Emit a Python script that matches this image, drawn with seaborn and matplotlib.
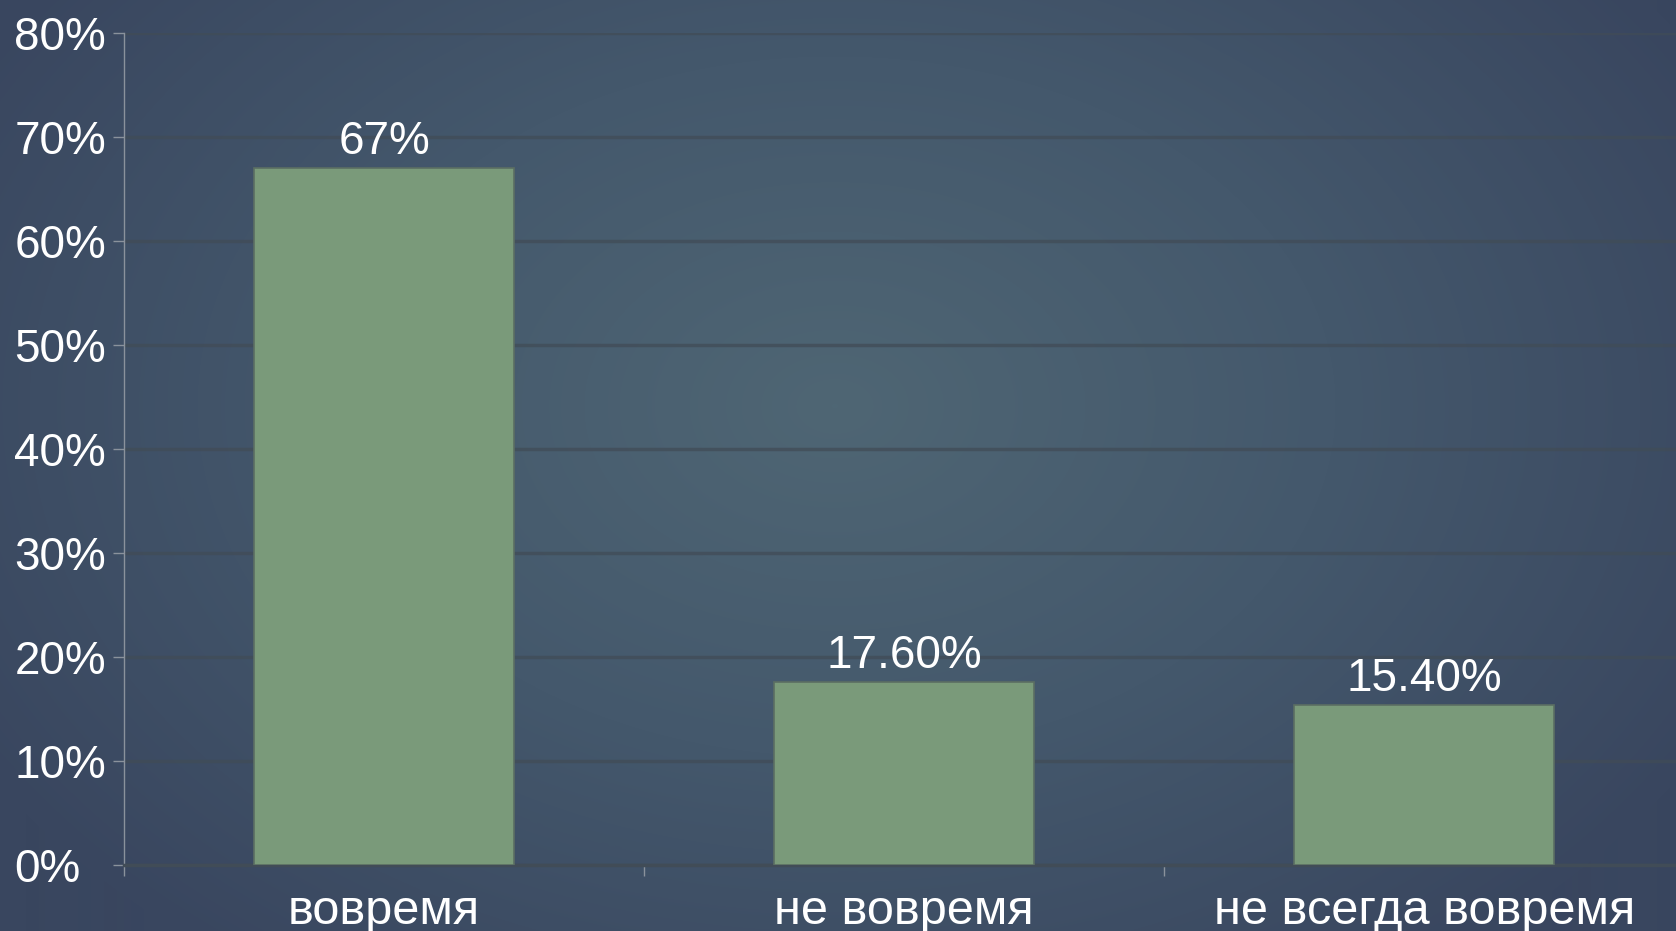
import numpy as np
import pandas as pd
import seaborn as sns
from matplotlib import pyplot as plt
from matplotlib.colors import LinearSegmentedColormap
from matplotlib.ticker import FixedLocator, PercentFormatter

categories = ['вовремя', 'не вовремя', 'не всегда вовремя']
values     = [0.67, 0.176, 0.154]
labels     = ['67%', '17.60%', '15.40%']
yticks     = [0.0, 0.1, 0.2, 0.3, 0.4, 0.5, 0.6, 0.7, 0.8]

sns.set_theme(style='white')
plt.rcParams['font.family'] = ['Liberation Sans', 'DejaVu Sans']

W, H, DPI = 1676, 931, 100
fig = plt.figure(figsize=(W / DPI, H / DPI), dpi=DPI)

# radial gradient background
bg = fig.add_axes([0, 0, 1, 1], zorder=-10)
yy, xx = np.mgrid[0:H, 0:W]
r = np.sqrt(((xx - 834) / 1000.0) ** 2 + ((yy - 406) / 700.0) ** 2)
r = np.clip(r, 0, 1)
cmap = LinearSegmentedColormap.from_list('bg', ['#4f6674', '#44586c', '#39465f'])
bg.imshow(r, cmap=cmap, aspect='auto', interpolation='bilinear')
bg.set_axis_off()

ax = fig.add_axes([124 / W, 1 - 865 / H, 1 - 124 / W + 0.005, (865 - 33) / H])
ax.patch.set_alpha(0)

df = pd.DataFrame({'cat': categories, 'val': values})
sns.barplot(data=df, x='cat', y='val', ax=ax, color='#7a9a7a', width=0.5,
            edgecolor='#5b6e63', linewidth=1.2, saturation=1, zorder=3)

ax.set_ylim(0, 0.8)
ax.set_xlim(-0.5, 2.5)
ax.yaxis.set_major_locator(FixedLocator(yticks))
ax.yaxis.set_major_formatter(PercentFormatter(1.0, decimals=0))
ax.grid(axis='y', color='#414c57', linewidth=2.5, alpha=0.75, zorder=0)
ax.set_xlabel('')
ax.set_ylabel('')

for s in ['top', 'right']:
    ax.spines[s].set_visible(False)
ax.spines['left'].set_color('#8a929c')
ax.spines['left'].set_linewidth(1.0)
ax.spines['bottom'].set_color('#414c57')
ax.spines['bottom'].set_linewidth(2.5)

ax.tick_params(axis='y', colors='#8a929c', labelcolor='white', labelsize=33,
               length=8, width=1, pad=71, left=True)
for t in ax.get_yticklabels():
    t.set_horizontalalignment('left')
ax.tick_params(axis='x', which='major', length=0, pad=17, labelcolor='white',
               labelsize=35)
ax.xaxis.set_minor_locator(FixedLocator([-0.5, 0.5, 1.5]))
ax.tick_params(axis='x', which='minor', bottom=True, length=8, width=1,
               color='#8a929c')

for p, lab in zip(ax.patches, labels):
    ax.annotate(lab, (p.get_x() + p.get_width() / 2, p.get_height()),
                xytext=(0, 3), textcoords='offset points', ha='center',
                va='bottom', color='white', fontsize=33, zorder=5)

fig.savefig('out.png', dpi=DPI)
